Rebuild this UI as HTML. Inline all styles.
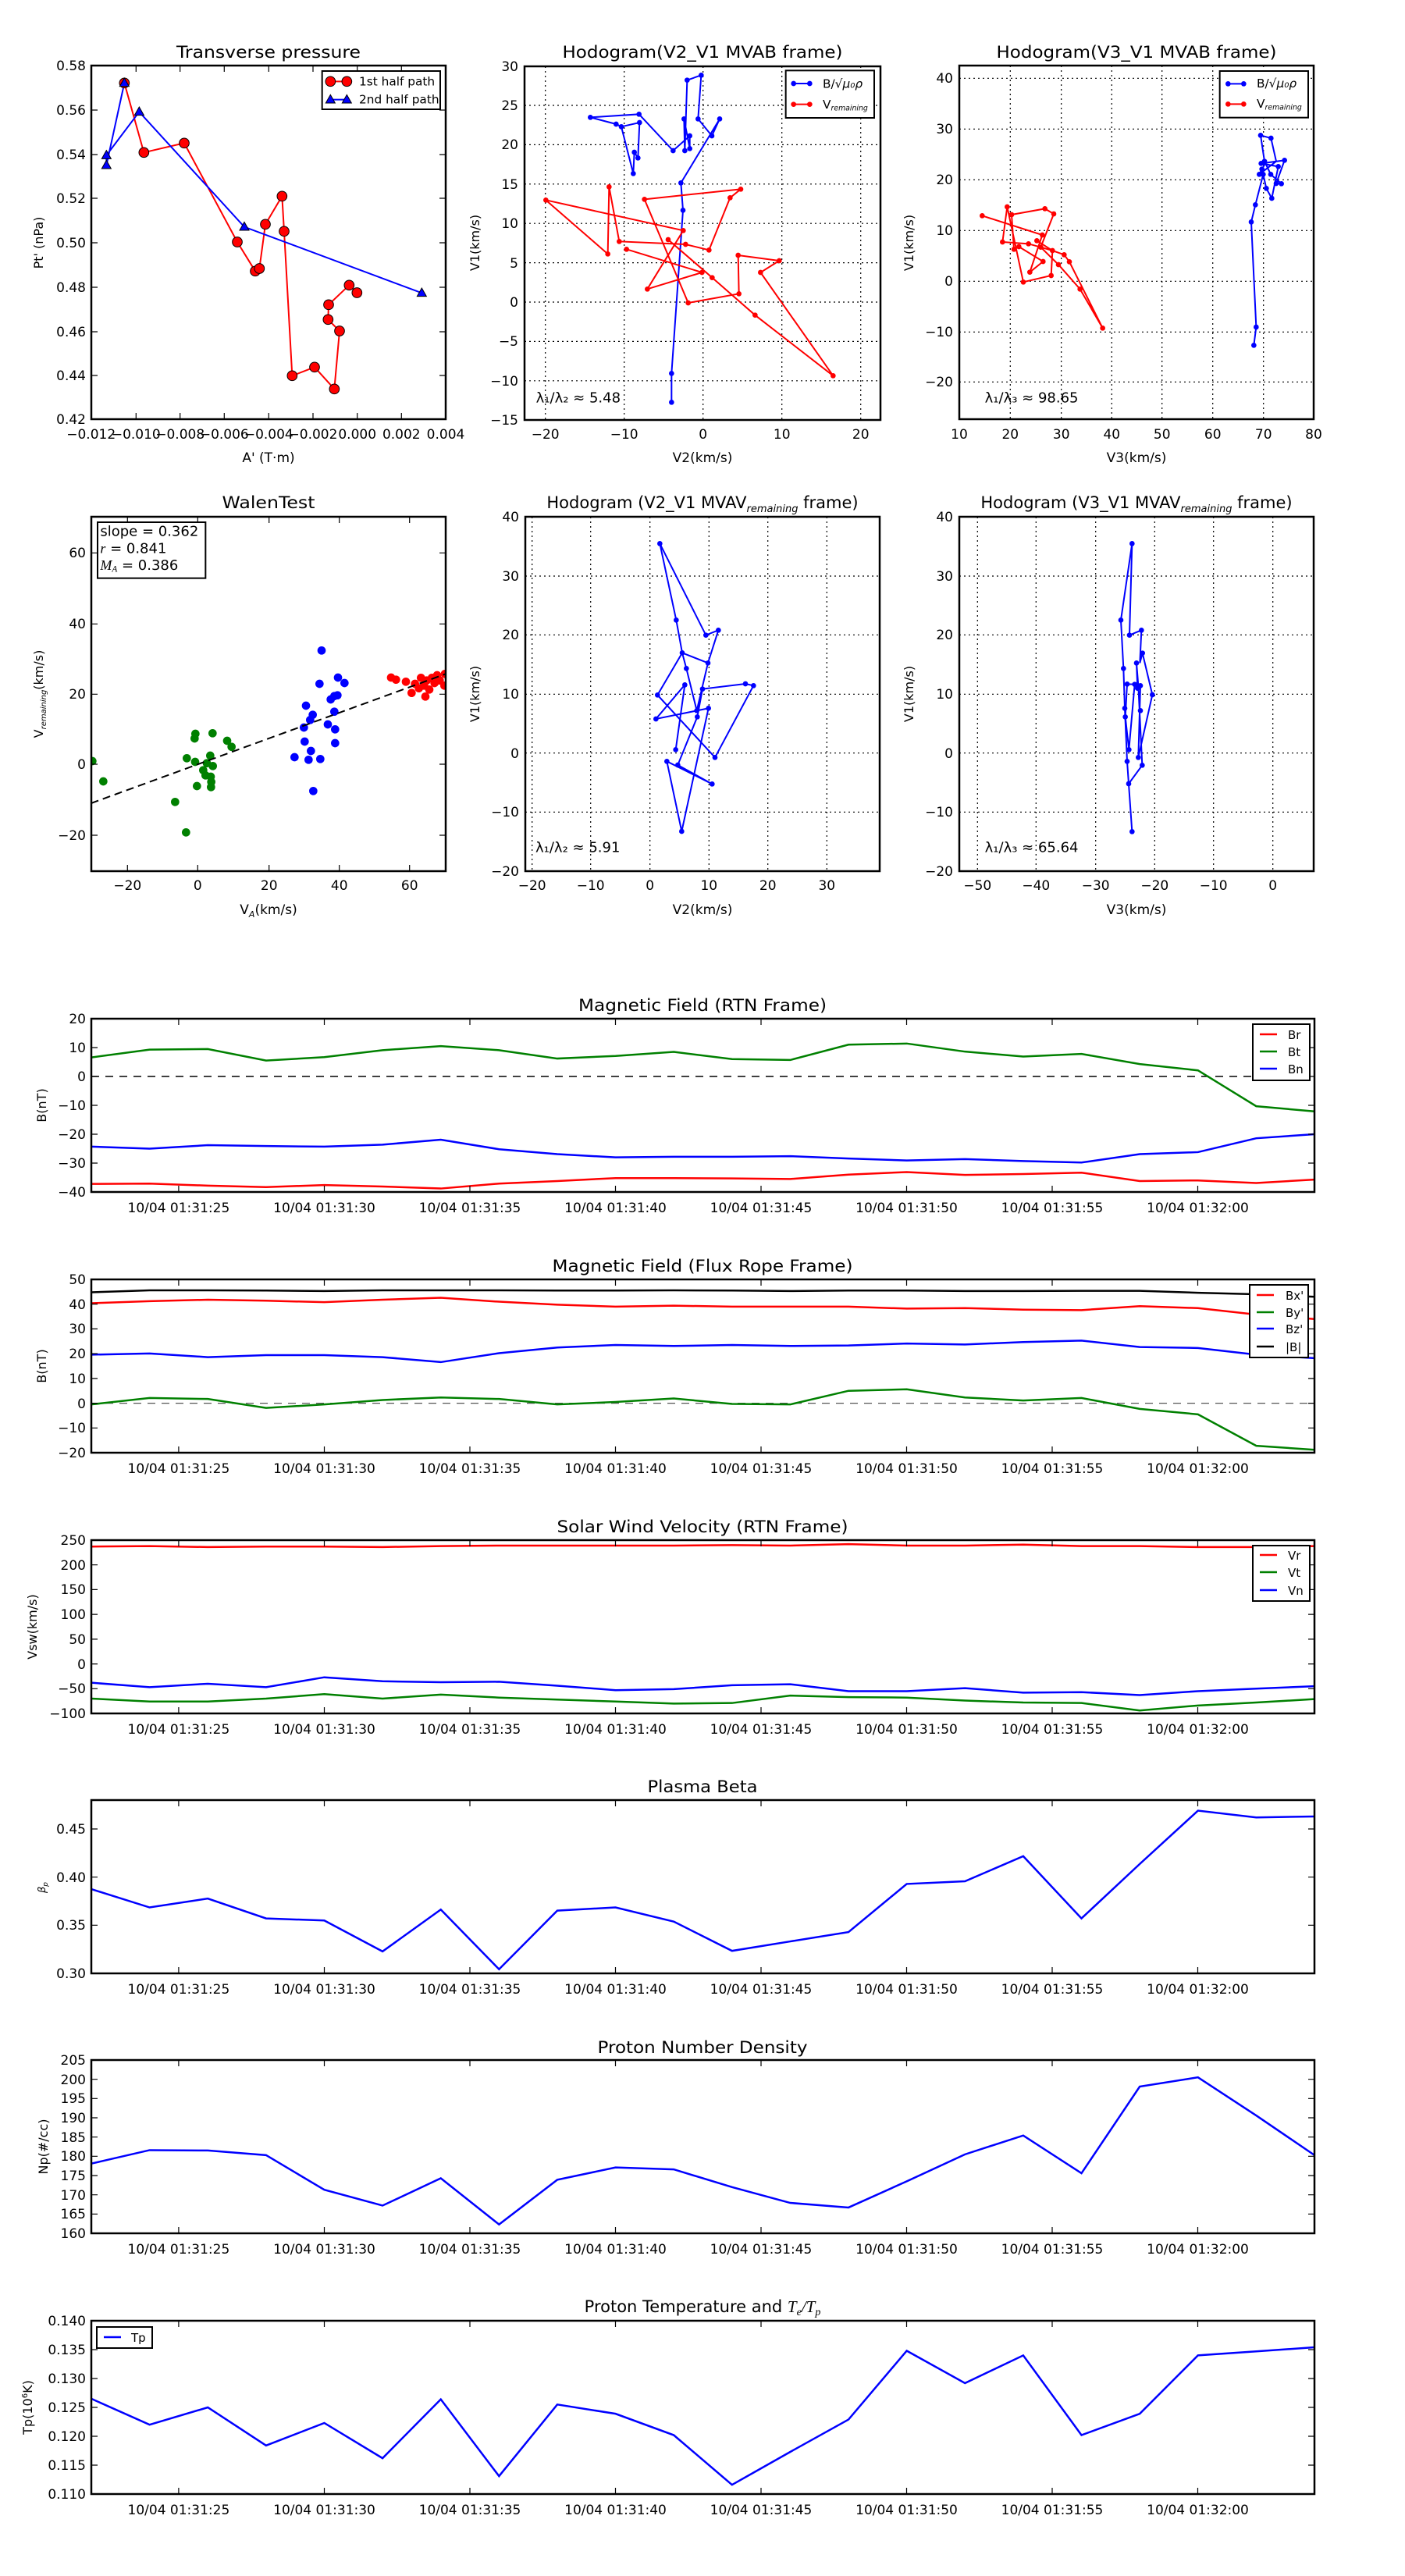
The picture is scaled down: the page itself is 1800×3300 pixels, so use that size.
<!DOCTYPE html>
<html><head><meta charset="utf-8"><style>
html,body{margin:0;padding:0;background:#fff;}
svg{display:block;}
text{font-family:"DejaVu Sans","Liberation Sans",sans-serif;fill:#000;}
.t{font-size:17px;}
.ti{font-size:21px;}
.yl{font-size:16px;}
</style></head><body>
<svg width="1800" height="3300" viewBox="0 0 1800 3300" xmlns="http://www.w3.org/2000/svg">
<rect width="1800" height="3300" fill="#fff"/>

<!-- ============ TOP ROW TITLES ============ -->
<text class="ti" x="344" y="74" text-anchor="middle" textLength="236" lengthAdjust="spacingAndGlyphs">Transverse pressure</text>
<text class="ti" x="900" y="74" text-anchor="middle" textLength="359" lengthAdjust="spacingAndGlyphs">Hodogram(V2_V1 MVAB frame)</text>
<text class="ti" x="1456" y="74" text-anchor="middle" textLength="359" lengthAdjust="spacingAndGlyphs">Hodogram(V3_V1 MVAB frame)</text>
<text class="ti" x="344" y="651" text-anchor="middle" textLength="119" lengthAdjust="spacingAndGlyphs">WalenTest</text>
<text class="ti" x="900" y="651" text-anchor="middle">Hodogram (V2_V1 MVAV<tspan font-style="italic" font-size="13" dy="5">remaining</tspan><tspan dy="-5"> frame)</tspan></text>
<text class="ti" x="1456" y="651" text-anchor="middle">Hodogram (V3_V1 MVAV<tspan font-style="italic" font-size="13" dy="5">remaining</tspan><tspan dy="-5"> frame)</tspan></text>

<!-- ============ Transverse pressure ============ -->
<g>
<svg x="110" y="80" width="470" height="470" viewBox="0 0 1410 1410">
<defs><clipPath id="c1"><rect x="20" y="12" width="1363" height="1360"/></clipPath></defs>
<g clip-path="url(#c1)">
<polyline fill="none" stroke="#f00" stroke-width="6" points="148,79 223,346 378,310 582,690 651,802 667,792 690,622 754,514 762,649 793,1204 879,1171 955,1255 975,1032 931,988 933,931 1012,856 1042,885"/>
<polyline fill="none" stroke="#00f" stroke-width="6" points="148,79 79,395 79,357 205,190 609,632 1291,886"/>
<g fill="#f00" stroke="#000" stroke-width="3">
<circle cx="148" cy="79" r="19"/><circle cx="223" cy="346" r="19"/><circle cx="378" cy="310" r="19"/><circle cx="582" cy="690" r="19"/><circle cx="651" cy="802" r="19"/><circle cx="667" cy="792" r="19"/><circle cx="690" cy="622" r="19"/><circle cx="754" cy="514" r="19"/><circle cx="762" cy="649" r="19"/><circle cx="793" cy="1204" r="19"/><circle cx="879" cy="1171" r="19"/><circle cx="955" cy="1255" r="19"/><circle cx="975" cy="1032" r="19"/><circle cx="931" cy="988" r="19"/><circle cx="933" cy="931" r="19"/><circle cx="1012" cy="856" r="19"/><circle cx="1042" cy="885" r="19"/>
</g>
<g fill="#00f" stroke="#000" stroke-width="3">
<polygon points="148,60 166,92 130,92"/><polygon points="79,376 97,408 61,408"/><polygon points="79,338 97,370 61,370"/><polygon points="205,171 223,203 187,203"/><polygon points="609,613 627,645 591,645"/><polygon points="1291,867 1309,899 1273,899"/>
</g>
</g>
<rect x="908" y="33" width="454" height="147" fill="#fff" stroke="#000" stroke-width="6"/>
<line x1="940" y1="73" x2="1003" y2="73" stroke="#f00" stroke-width="6"/>
<circle cx="940" cy="73" r="19" fill="#f00" stroke="#000" stroke-width="3"/><circle cx="1003" cy="73" r="19" fill="#f00" stroke="#000" stroke-width="3"/>
<line x1="940" y1="143" x2="1003" y2="143" stroke="#00f" stroke-width="6"/>
<polygon points="940,124 958,156 922,156" fill="#00f" stroke="#000" stroke-width="3"/><polygon points="1003,124 1021,156 985,156" fill="#00f" stroke="#000" stroke-width="3"/>
<text x="1050" y="88" font-size="46">1st half path</text>
<text x="1050" y="158" font-size="46">2nd half path</text>
</svg>
<rect x="117" y="84" width="454" height="453" fill="none" stroke="#000" stroke-width="2.5"/>
<g stroke="#000" stroke-width="1.2">
<path d="M174.3,537v-8M230.7,537v-8M287.3,537v-8M344.3,537v-8M401,537v-8M457.7,537v-8M514.3,537v-8M174.3,84v8M230.7,84v8M287.3,84v8M344.3,84v8M401,84v8M457.7,84v8M514.3,84v8"/>
<path d="M117,141h8M117,198h8M117,254h8M117,311h8M117,368h8M117,425h8M117,481h8M571,141h-8M571,198h-8M571,254h-8M571,311h-8M571,368h-8M571,425h-8M571,481h-8"/>
</g>
<g class="t" text-anchor="end">
<text x="110" y="90">0.58</text><text x="110" y="147">0.56</text><text x="110" y="204">0.54</text><text x="110" y="260">0.52</text><text x="110" y="317">0.50</text><text x="110" y="374">0.48</text><text x="110" y="431">0.46</text><text x="110" y="487">0.44</text><text x="110" y="543">0.42</text>
</g>
<g class="t" text-anchor="middle" font-size="16">
<text x="116.7" y="562">−0.012</text><text x="174.3" y="562">−0.010</text><text x="230.7" y="562">−0.008</text><text x="287.3" y="562">−0.006</text><text x="344.3" y="562">−0.004</text><text x="401" y="562">−0.002</text><text x="457.7" y="562">0.000</text><text x="514.3" y="562">0.002</text><text x="571" y="562">0.004</text>
</g>
<text class="t" x="344" y="592" text-anchor="middle">A' (T·m)</text>
<text class="yl" transform="translate(55,311) rotate(-90)" text-anchor="middle">Pt' (nPa)</text>
</g>

<!-- ============ Hodogram V2_V1 MVAB ============ -->
<g>
<g stroke="#000" stroke-width="1.2" stroke-dasharray="2,4">
<path d="M698.7,85V538M799.7,85V538M900.7,85V538M1001.7,85V538M1102.7,85V538"/>
<path d="M672,135H1128M672,185.4H1128M672,235.8H1128M672,286.2H1128M672,336.6H1128M672,387H1128M672,437.4H1128M672,487.8H1128"/>
</g>
<svg x="675" y="83" width="460" height="460" viewBox="0 0 1380 1380">
<defs><clipPath id="c2"><rect x="-10" y="5" width="1365" height="1360"/></clipPath></defs>
<g clip-path="url(#c2)">
<polyline fill="none" stroke="#00f" stroke-width="6" points="556,1297 556,1186 600,559 592,454 741,208 711,273 658,208 670,40 616,59 607,330 604,208 626,322 626,273 562,330 431,190 244,202 343,228 363,238 409,418 413,336 427,358 433,222 363,238"/>
<g fill="#00f"><circle cx="556" cy="1297" r="10"/><circle cx="556" cy="1186" r="10"/><circle cx="600" cy="559" r="10"/><circle cx="592" cy="454" r="10"/><circle cx="741" cy="208" r="10"/><circle cx="711" cy="273" r="10"/><circle cx="658" cy="208" r="10"/><circle cx="670" cy="40" r="10"/><circle cx="616" cy="59" r="10"/><circle cx="607" cy="330" r="10"/><circle cx="604" cy="208" r="10"/><circle cx="626" cy="322" r="10"/><circle cx="626" cy="273" r="10"/><circle cx="562" cy="330" r="10"/><circle cx="431" cy="190" r="10"/><circle cx="244" cy="202" r="10"/><circle cx="343" cy="228" r="10"/><circle cx="363" cy="238" r="10"/><circle cx="409" cy="418" r="10"/><circle cx="413" cy="336" r="10"/><circle cx="427" cy="358" r="10"/><circle cx="433" cy="222" r="10"/></g>
<polyline fill="none" stroke="#f00" stroke-width="6" points="383,709 673,798 463,862 601,637 73,520 311,727 316,469 355,679 610,690 700,712 781,511 822,478 452,517 620,915 815,880 812,732 970,753 898,798 1177,1195 877,962 712,818 543,672"/>
<g fill="#f00"><circle cx="383" cy="709" r="10"/><circle cx="673" cy="798" r="10"/><circle cx="463" cy="862" r="10"/><circle cx="601" cy="637" r="10"/><circle cx="73" cy="520" r="10"/><circle cx="311" cy="727" r="10"/><circle cx="316" cy="469" r="10"/><circle cx="355" cy="679" r="10"/><circle cx="610" cy="690" r="10"/><circle cx="700" cy="712" r="10"/><circle cx="781" cy="511" r="10"/><circle cx="822" cy="478" r="10"/><circle cx="452" cy="517" r="10"/><circle cx="620" cy="915" r="10"/><circle cx="815" cy="880" r="10"/><circle cx="812" cy="732" r="10"/><circle cx="970" cy="753" r="10"/><circle cx="898" cy="798" r="10"/><circle cx="1177" cy="1195" r="10"/><circle cx="877" cy="962" r="10"/><circle cx="712" cy="818" r="10"/><circle cx="543" cy="672" r="10"/></g>
</g>
<rect x="995" y="22" width="340" height="182" fill="#fff" stroke="#000" stroke-width="6"/>
<line x1="1025" y1="72" x2="1087" y2="72" stroke="#00f" stroke-width="6"/><circle cx="1025" cy="72" r="10" fill="#00f"/><circle cx="1087" cy="72" r="10" fill="#00f"/>
<line x1="1025" y1="152" x2="1087" y2="152" stroke="#f00" stroke-width="6"/><circle cx="1025" cy="152" r="10" fill="#f00"/><circle cx="1087" cy="152" r="10" fill="#f00"/>
<text x="1137" y="88" font-size="46">B/√<tspan font-style="italic">μ₀ρ</tspan></text>
<text x="1137" y="168" font-size="46">V<tspan font-style="italic" font-size="28" dy="8">remaining</tspan></text>
<text x="35" y="1298" font-size="54">λ₁/λ₂ ≈ 5.48</text>
</svg>
<rect x="672" y="85" width="456" height="453" fill="none" stroke="#000" stroke-width="2.5"/>
<g class="t" text-anchor="end">
<text x="664" y="91">30</text><text x="664" y="141">25</text><text x="664" y="191">20</text><text x="664" y="242">15</text><text x="664" y="292">10</text><text x="664" y="343">5</text><text x="664" y="393">0</text><text x="664" y="443">−5</text><text x="664" y="494">−10</text><text x="664" y="544">−15</text>
</g>
<g class="t" text-anchor="middle">
<text x="698.7" y="562">−20</text><text x="799.7" y="562">−10</text><text x="900.7" y="562">0</text><text x="1001.7" y="562">10</text><text x="1102.7" y="562">20</text>
</g>
<text class="t" x="900" y="592" text-anchor="middle">V2(km/s)</text>
<text class="yl" transform="translate(614,311) rotate(-90)" text-anchor="middle">V1(km/s)</text>
</g>

<!-- ============ Hodogram V3_V1 MVAB ============ -->
<g>
<g stroke="#000" stroke-width="1.2" stroke-dasharray="2,4">
<path d="M1294.3,84V537M1359.7,84V537M1424.3,84V537M1488.7,84V537M1553.7,84V537M1618.7,84V537"/>
<path d="M1229,100.3H1683M1229,165.3H1683M1229,230.3H1683M1229,295.3H1683M1229,360.3H1683M1229,425.3H1683M1229,489.3H1683"/>
</g>
<svg x="1225" y="80" width="470" height="470" viewBox="0 0 1410 1410">
<defs><clipPath id="c3"><rect x="12" y="12" width="1363" height="1360"/></clipPath></defs>
<g clip-path="url(#c3)">
<polyline fill="none" stroke="#00f" stroke-width="6" points="1144,1087 1153,1017 1134,613 1150,547 1180,430 1192,484 1213,522 1238,400 1172,388 1262,376 1230,465 1250,466 1209,430 1185,380 1170,280 1210,291 1230,380 1165,430 1175,410 1190,385"/>
<g fill="#00f"><circle cx="1144" cy="1087" r="10"/><circle cx="1153" cy="1017" r="10"/><circle cx="1134" cy="613" r="10"/><circle cx="1150" cy="547" r="10"/><circle cx="1180" cy="430" r="10"/><circle cx="1192" cy="484" r="10"/><circle cx="1213" cy="522" r="10"/><circle cx="1238" cy="400" r="10"/><circle cx="1172" cy="388" r="10"/><circle cx="1262" cy="376" r="10"/><circle cx="1230" cy="465" r="10"/><circle cx="1250" cy="466" r="10"/><circle cx="1209" cy="430" r="10"/><circle cx="1185" cy="380" r="10"/><circle cx="1170" cy="280" r="10"/><circle cx="1210" cy="291" r="10"/><circle cx="1165" cy="430" r="10"/><circle cx="1175" cy="410" r="10"/></g>
<polyline fill="none" stroke="#f00" stroke-width="6" points="100,589 331,663 283,806 334,765 241,708 222,718 213,585 341,562 375,582 325,710 393,777 476,871 563,1021 435,766 415,739 370,723 325,710 278,697 178,690 196,555 258,844 365,819 370,723 310,685"/>
<g fill="#f00"><circle cx="100" cy="589" r="10"/><circle cx="331" cy="663" r="10"/><circle cx="283" cy="806" r="10"/><circle cx="334" cy="765" r="10"/><circle cx="241" cy="708" r="10"/><circle cx="222" cy="718" r="10"/><circle cx="213" cy="585" r="10"/><circle cx="341" cy="562" r="10"/><circle cx="375" cy="582" r="10"/><circle cx="325" cy="710" r="10"/><circle cx="393" cy="777" r="10"/><circle cx="476" cy="871" r="10"/><circle cx="563" cy="1021" r="10"/><circle cx="435" cy="766" r="10"/><circle cx="415" cy="739" r="10"/><circle cx="370" cy="723" r="10"/><circle cx="278" cy="697" r="10"/><circle cx="178" cy="690" r="10"/><circle cx="196" cy="555" r="10"/><circle cx="258" cy="844" r="10"/><circle cx="365" cy="819" r="10"/><circle cx="310" cy="685" r="10"/></g>
</g>
<rect x="1013" y="33" width="340" height="179" fill="#fff" stroke="#000" stroke-width="6"/>
<line x1="1045" y1="82" x2="1105" y2="82" stroke="#00f" stroke-width="6"/><circle cx="1045" cy="82" r="10" fill="#00f"/><circle cx="1105" cy="82" r="10" fill="#00f"/>
<line x1="1045" y1="160" x2="1105" y2="160" stroke="#f00" stroke-width="6"/><circle cx="1045" cy="160" r="10" fill="#f00"/><circle cx="1105" cy="160" r="10" fill="#f00"/>
<text x="1155" y="96" font-size="46">B/√<tspan font-style="italic">μ₀ρ</tspan></text>
<text x="1155" y="174" font-size="46">V<tspan font-style="italic" font-size="28" dy="8">remaining</tspan></text>
<text x="110" y="1306" font-size="54">λ₁/λ₃ ≈ 98.65</text>
</svg>
<rect x="1229" y="84" width="454" height="453" fill="none" stroke="#000" stroke-width="2.5"/>
<g class="t" text-anchor="end">
<text x="1221" y="106">40</text><text x="1221" y="171">30</text><text x="1221" y="236">20</text><text x="1221" y="301">10</text><text x="1221" y="366">0</text><text x="1221" y="431">−10</text><text x="1221" y="495">−20</text>
</g>
<g class="t" text-anchor="middle">
<text x="1229" y="562">10</text><text x="1294.3" y="562">20</text><text x="1359.7" y="562">30</text><text x="1424.3" y="562">40</text><text x="1488.7" y="562">50</text><text x="1553.7" y="562">60</text><text x="1618.7" y="562">70</text><text x="1683" y="562">80</text>
</g>
<text class="t" x="1456" y="592" text-anchor="middle">V3(km/s)</text>
<text class="yl" transform="translate(1170,311) rotate(-90)" text-anchor="middle">V1(km/s)</text>
</g>

<!-- ============ Walen test ============ -->
<g>
<svg x="110" y="655" width="470" height="470" viewBox="0 0 1410 1410">
<defs><clipPath id="c4"><rect x="20" y="20" width="1363" height="1362"/></clipPath></defs>
<g clip-path="url(#c4)">
<g fill="#008000">
<circle cx="25" cy="960" r="16"/><circle cx="67" cy="1038" r="16"/><circle cx="343" cy="1117" r="16"/><circle cx="385" cy="1234" r="16"/><circle cx="388" cy="949" r="16"/><circle cx="420" cy="963" r="16"/><circle cx="421" cy="855" r="16"/><circle cx="418" cy="873" r="16"/><circle cx="427" cy="1056" r="16"/><circle cx="451" cy="995" r="16"/><circle cx="460" cy="1015" r="16"/><circle cx="465" cy="968" r="16"/><circle cx="478" cy="939" r="16"/><circle cx="487" cy="853" r="16"/><circle cx="488" cy="979" r="16"/><circle cx="480" cy="1020" r="16"/><circle cx="482" cy="1040" r="16"/><circle cx="481" cy="1060" r="16"/><circle cx="543" cy="882" r="16"/><circle cx="560" cy="905" r="16"/>
</g>
<g fill="#00f">
<circle cx="906" cy="535" r="16"/><circle cx="898" cy="663" r="16"/><circle cx="969" cy="639" r="16"/><circle cx="994" cy="660" r="16"/><circle cx="846" cy="747" r="16"/><circle cx="941" cy="723" r="16"/><circle cx="955" cy="710" r="16"/><circle cx="967" cy="707" r="16"/><circle cx="872" cy="782" r="16"/><circle cx="862" cy="802" r="16"/><circle cx="955" cy="770" r="16"/><circle cx="838" cy="831" r="16"/><circle cx="930" cy="819" r="16"/><circle cx="958" cy="838" r="16"/><circle cx="841" cy="885" r="16"/><circle cx="958" cy="891" r="16"/><circle cx="865" cy="921" r="16"/><circle cx="802" cy="945" r="16"/><circle cx="856" cy="955" r="16"/><circle cx="901" cy="952" r="16"/><circle cx="874" cy="1075" r="16"/>
</g>
<g fill="#f00">
<circle cx="1173" cy="639" r="16"/><circle cx="1192" cy="647" r="16"/><circle cx="1230" cy="655" r="16"/><circle cx="1265" cy="663" r="16"/><circle cx="1288" cy="640" r="16"/><circle cx="1300" cy="670" r="16"/><circle cx="1252" cy="698" r="16"/><circle cx="1305" cy="712" r="16"/><circle cx="1330" cy="640" r="16"/><circle cx="1350" cy="630" r="16"/><circle cx="1340" cy="660" r="16"/><circle cx="1380" cy="625" r="16"/><circle cx="1378" cy="670" r="16"/><circle cx="1280" cy="680" r="16"/><circle cx="1320" cy="685" r="16"/><circle cx="1360" cy="650" r="16"/><circle cx="1310" cy="650" r="16"/><circle cx="1395" cy="640" r="16"/>
</g>
<line x1="20" y1="1122" x2="1383" y2="625" stroke="#000" stroke-width="6" stroke-dasharray="30,18"/>
</g>
<rect x="45" y="42" width="415" height="215" fill="#fff" stroke="#000" stroke-width="6"/>
<text x="55" y="95" font-size="54">slope = 0.362</text>
<text x="55" y="160" font-size="54"><tspan font-style="italic" font-family="Liberation Serif,serif">r</tspan> = 0.841</text>
<text x="55" y="225" font-size="54"><tspan font-style="italic" font-family="Liberation Serif,serif">M</tspan><tspan font-style="italic" font-family="Liberation Serif,serif" font-size="34" dy="8">A</tspan><tspan dy="-8"> = 0.386</tspan></text>
</svg>
<rect x="117" y="662" width="454" height="454" fill="none" stroke="#000" stroke-width="2.5"/>
<g stroke="#000" stroke-width="1.2">
<path d="M163.3,1116v-8M253.3,1116v-8M344.7,1116v-8M434.7,1116v-8M524.7,1116v-8M163.3,662v8M253.3,662v8M344.7,662v8M434.7,662v8M524.7,662v8"/>
<path d="M117,708.3h8M117,799.3h8M117,889.3h8M117,979h8M117,1070h8M571,708.3h-8M571,799.3h-8M571,889.3h-8M571,979h-8M571,1070h-8"/>
</g>
<g class="t" text-anchor="end">
<text x="110" y="714">60</text><text x="110" y="805">40</text><text x="110" y="895">20</text><text x="110" y="985">0</text><text x="110" y="1076">−20</text>
</g>
<g class="t" text-anchor="middle">
<text x="163.3" y="1140">−20</text><text x="253.3" y="1140">0</text><text x="344.7" y="1140">20</text><text x="434.7" y="1140">40</text><text x="524.7" y="1140">60</text>
</g>
<text class="t" x="344" y="1171" text-anchor="middle">V<tspan font-style="italic" font-size="11" dy="4">A</tspan><tspan dy="-4">(km/s)</tspan></text>
<text class="yl" transform="translate(55,889) rotate(-90)" text-anchor="middle">V<tspan font-style="italic" font-size="10" dy="4">remaining</tspan><tspan dy="-4">(km/s)</tspan></text>
</g>

<!-- ============ Hodogram V2_V1 MVAV ============ -->
<g>
<g stroke="#000" stroke-width="1.2" stroke-dasharray="2,4">
<path d="M681.7,662V1116M756.7,662V1116M832.7,662V1116M908.3,662V1116M983.7,662V1116M1059.3,662V1116"/>
<path d="M673,738H1127M673,813.3H1127M673,889.3H1127M673,964.7H1127M673,1040.3H1127"/>
</g>
<svg x="670" y="655" width="470" height="470" viewBox="0 0 1410 1410">
<polyline fill="none" stroke="#00f" stroke-width="6" points="587,916 622,667 511,798 713,757 610,1230 553,961 727,1048 595,975 670,790 690,683 855,663 886,670 738,946 517,706 612,544 711,583 751,457 703,476 526,124 589,418 612,544 628,604 668,766 711,583"/>
<g fill="#00f"><circle cx="587" cy="916" r="10"/><circle cx="622" cy="667" r="10"/><circle cx="511" cy="798" r="10"/><circle cx="713" cy="757" r="10"/><circle cx="610" cy="1230" r="10"/><circle cx="553" cy="961" r="10"/><circle cx="727" cy="1048" r="10"/><circle cx="595" cy="975" r="10"/><circle cx="670" cy="790" r="10"/><circle cx="690" cy="683" r="10"/><circle cx="855" cy="663" r="10"/><circle cx="886" cy="670" r="10"/><circle cx="738" cy="946" r="10"/><circle cx="517" cy="706" r="10"/><circle cx="612" cy="544" r="10"/><circle cx="711" cy="583" r="10"/><circle cx="751" cy="457" r="10"/><circle cx="703" cy="476" r="10"/><circle cx="526" cy="124" r="10"/><circle cx="589" cy="418" r="10"/><circle cx="628" cy="604" r="10"/><circle cx="668" cy="766" r="10"/></g>
<text x="48" y="1310" font-size="54">λ₁/λ₂ ≈ 5.91</text>
</svg>
<rect x="673" y="662" width="454" height="454" fill="none" stroke="#000" stroke-width="2.5"/>
<g class="t" text-anchor="end">
<text x="665" y="668">40</text><text x="665" y="744">30</text><text x="665" y="819">20</text><text x="665" y="895">10</text><text x="665" y="971">0</text><text x="665" y="1046">−10</text><text x="665" y="1122">−20</text>
</g>
<g class="t" text-anchor="middle">
<text x="681.7" y="1140">−20</text><text x="756.7" y="1140">−10</text><text x="832.7" y="1140">0</text><text x="908.3" y="1140">10</text><text x="983.7" y="1140">20</text><text x="1059.3" y="1140">30</text>
</g>
<text class="t" x="900" y="1171" text-anchor="middle">V2(km/s)</text>
<text class="yl" transform="translate(614,889) rotate(-90)" text-anchor="middle">V1(km/s)</text>
</g>

<!-- ============ Hodogram V3_V1 MVAV ============ -->
<g>
<g stroke="#000" stroke-width="1.2" stroke-dasharray="2,4">
<path d="M1252.3,662V1116M1327.3,662V1116M1403.7,662V1116M1479.3,662V1116M1554.7,662V1116M1630.7,662V1116"/>
<path d="M1229,738H1683M1229,813.3H1683M1229,889.3H1683M1229,964.7H1683M1229,1040.3H1683"/>
</g>
<svg x="1225" y="655" width="470" height="470" viewBox="0 0 1410 1410">
<polyline fill="none" stroke="#00f" stroke-width="6" points="676,1231 663,1047 657,961 648,757 643,604 633,418 676,124 666,476 712,457 706,583 716,545 754,705 700,946 708,670 697,680 693,583 700,670 715,976 663,1047"/>
<polyline fill="none" stroke="#00f" stroke-width="6" points="657,664 686,665 664,916 650,790 657,664"/>
<g fill="#00f"><circle cx="676" cy="1231" r="10"/><circle cx="663" cy="1047" r="10"/><circle cx="657" cy="961" r="10"/><circle cx="648" cy="757" r="10"/><circle cx="643" cy="604" r="10"/><circle cx="633" cy="418" r="10"/><circle cx="676" cy="124" r="10"/><circle cx="666" cy="476" r="10"/><circle cx="712" cy="457" r="10"/><circle cx="716" cy="545" r="10"/><circle cx="754" cy="705" r="10"/><circle cx="700" cy="946" r="10"/><circle cx="708" cy="670" r="10"/><circle cx="697" cy="680" r="10"/><circle cx="693" cy="583" r="10"/><circle cx="715" cy="976" r="10"/><circle cx="657" cy="664" r="10"/><circle cx="686" cy="665" r="10"/><circle cx="664" cy="916" r="10"/><circle cx="650" cy="790" r="10"/><circle cx="708" cy="766" r="10"/></g>
<text x="110" y="1310" font-size="54">λ₁/λ₃ ≈ 65.64</text>
</svg>
<rect x="1229" y="662" width="454" height="454" fill="none" stroke="#000" stroke-width="2.5"/>
<g class="t" text-anchor="end">
<text x="1221" y="668">40</text><text x="1221" y="744">30</text><text x="1221" y="819">20</text><text x="1221" y="895">10</text><text x="1221" y="971">0</text><text x="1221" y="1046">−10</text><text x="1221" y="1122">−20</text>
</g>
<g class="t" text-anchor="middle">
<text x="1252.3" y="1140">−50</text><text x="1327.3" y="1140">−40</text><text x="1403.7" y="1140">−30</text><text x="1479.3" y="1140">−20</text><text x="1554.7" y="1140">−10</text><text x="1630.7" y="1140">0</text>
</g>
<text class="t" x="1456" y="1171" text-anchor="middle">V3(km/s)</text>
<text class="yl" transform="translate(1170,889) rotate(-90)" text-anchor="middle">V1(km/s)</text>
</g>

<!-- ============ TIME SERIES ============ -->
<!-- shared x tick positions: 228.9 415.5 602 788.5 975 1161.5 1348 1534.5 -->

<!-- Magnetic Field RTN -->
<g>
<text class="ti" x="900" y="1295" text-anchor="middle" textLength="318" lengthAdjust="spacingAndGlyphs">Magnetic Field (RTN Frame)</text>
<line x1="117" y1="1379" x2="1684" y2="1379" stroke="#000" stroke-width="1.5" stroke-dasharray="10,8"/>
<svg x="117" y="1305" width="1567" height="222" viewBox="22 -20 42 60" preserveAspectRatio="none">
<polyline fill="none" stroke="#f00" stroke-width="2.5" vector-effect="non-scaling-stroke" points="22,37.2 24,37.1 26,37.8 28,38.3 30,37.6 32,38.1 34,38.8 36,37.1 38,36.2 40,35.2 42,35.2 44,35.3 46,35.5 48,34 50,33.1 52,34.1 54,33.8 56,33.3 58,36.2 60,36 62,36.9 64,35.7"/>
<polyline fill="none" stroke="#008000" stroke-width="2.5" vector-effect="non-scaling-stroke" points="22,-6.6 24,-9.3 26,-9.5 28,-5.5 30,-6.7 32,-9.1 34,-10.5 36,-9.1 38,-6.2 40,-7.1 42,-8.5 44,-6 46,-5.7 48,-11 50,-11.4 52,-8.6 54,-6.9 56,-7.8 58,-4.3 60,-2.1 62,10.3 64,12.1"/>
<polyline fill="none" stroke="#00f" stroke-width="2.5" vector-effect="non-scaling-stroke" points="22,24.3 24,25 26,23.8 28,24.1 30,24.3 32,23.6 34,21.9 36,25.2 38,26.9 40,28 42,27.8 44,27.8 46,27.6 48,28.4 50,29.1 52,28.6 54,29.3 56,29.8 58,26.9 60,26.2 62,21.4 64,20"/>
</svg>
<rect x="117" y="1305" width="1567" height="222" fill="none" stroke="#000" stroke-width="2.5"/>
<g stroke="#000" stroke-width="1.2">
<path d="M228.9,1527v-8M415.5,1527v-8M602,1527v-8M788.5,1527v-8M975,1527v-8M1161.5,1527v-8M1348,1527v-8M1534.5,1527v-8M228.9,1305v8M415.5,1305v8M602,1305v8M788.5,1305v8M975,1305v8M1161.5,1305v8M1348,1305v8M1534.5,1305v8"/>
<path d="M117,1342h8M117,1379h8M117,1416h8M117,1453h8M117,1490h8M1684,1342h-8M1684,1379h-8M1684,1416h-8M1684,1453h-8M1684,1490h-8"/>
</g>
<g class="t" text-anchor="end">
<text x="110" y="1311">20</text><text x="110" y="1348">10</text><text x="110" y="1385">0</text><text x="110" y="1422">−10</text><text x="110" y="1459">−20</text><text x="110" y="1496">−30</text><text x="110" y="1533">−40</text>
</g>
<text class="yl" transform="translate(59,1416) rotate(-90)" text-anchor="middle">B(nT)</text>
<rect x="1605" y="1312" width="73" height="72" fill="#fff" stroke="#000" stroke-width="2"/>
<line x1="1614" y1="1325" x2="1636" y2="1325" stroke="#f00" stroke-width="2.5"/>
<line x1="1614" y1="1347" x2="1636" y2="1347" stroke="#008000" stroke-width="2.5"/>
<line x1="1614" y1="1369" x2="1636" y2="1369" stroke="#00f" stroke-width="2.5"/>
<g font-size="15"><text x="1650" y="1331">Br</text><text x="1650" y="1353">Bt</text><text x="1650" y="1375">Bn</text></g>
</g>

<!-- Magnetic Field Flux Rope -->
<g>
<text class="ti" x="900" y="1629" text-anchor="middle" textLength="385" lengthAdjust="spacingAndGlyphs">Magnetic Field (Flux Rope Frame)</text>
<line x1="117" y1="1797.6" x2="1684" y2="1797.6" stroke="#555" stroke-width="1.3" stroke-dasharray="10,8"/>
<svg x="117" y="1639" width="1567" height="222" viewBox="22 -50 42 70" preserveAspectRatio="none">
<polyline fill="none" stroke="#f00" stroke-width="2.5" vector-effect="non-scaling-stroke" points="22,-40.4 24,-41.2 26,-41.8 28,-41.4 30,-40.8 32,-41.8 34,-42.6 36,-41 38,-39.8 40,-39 42,-39.4 44,-39 46,-39 48,-39 50,-38.2 52,-38.4 54,-37.8 56,-37.6 58,-39.2 60,-38.4 62,-35.8 64,-34"/>
<polyline fill="none" stroke="#008000" stroke-width="2.5" vector-effect="non-scaling-stroke" points="22,0.5 24,-2.1 26,-1.7 28,1.9 30,0.5 32,-1.3 34,-2.3 36,-1.7 38,0.5 40,-0.5 42,-1.9 44,0.3 46,0.5 48,-5 50,-5.6 52,-2.3 54,-1.1 56,-2.1 58,2.3 60,4.5 62,17.2 64,18.8"/>
<polyline fill="none" stroke="#00f" stroke-width="2.5" vector-effect="non-scaling-stroke" points="22,-19.6 24,-20.1 26,-18.6 28,-19.4 30,-19.4 32,-18.6 34,-16.6 36,-20.2 38,-22.5 40,-23.5 42,-23.1 44,-23.5 46,-23.1 48,-23.3 50,-24.1 52,-23.7 54,-24.7 56,-25.3 58,-22.7 60,-22.3 62,-19.6 64,-18.2"/>
<polyline fill="none" stroke="#000" stroke-width="2.5" vector-effect="non-scaling-stroke" points="22,-44.8 24,-45.6 26,-45.6 28,-45.5 30,-45.3 32,-45.6 34,-45.6 36,-45.6 38,-45.5 40,-45.5 42,-45.6 44,-45.5 46,-45.3 48,-45.5 50,-45.5 52,-45.3 54,-45.3 56,-45.4 58,-45.4 60,-44.6 62,-44 64,-43"/>
</svg>
<rect x="117" y="1639" width="1567" height="222" fill="none" stroke="#000" stroke-width="2.5"/>
<g stroke="#000" stroke-width="1.2">
<path d="M228.9,1861v-8M415.5,1861v-8M602,1861v-8M788.5,1861v-8M975,1861v-8M1161.5,1861v-8M1348,1861v-8M1534.5,1861v-8M228.9,1639v8M415.5,1639v8M602,1639v8M788.5,1639v8M975,1639v8M1161.5,1639v8M1348,1639v8M1534.5,1639v8"/>
<path d="M117,1670.7h8M117,1702.4h8M117,1734.1h8M117,1765.9h8M117,1797.6h8M117,1829.3h8M1684,1670.7h-8M1684,1702.4h-8M1684,1734.1h-8M1684,1765.9h-8M1684,1797.6h-8M1684,1829.3h-8"/>
</g>
<g class="t" text-anchor="end">
<text x="110" y="1645">50</text><text x="110" y="1677">40</text><text x="110" y="1708">30</text><text x="110" y="1740">20</text><text x="110" y="1772">10</text><text x="110" y="1804">0</text><text x="110" y="1835">−10</text><text x="110" y="1867">−20</text>
</g>
<text class="yl" transform="translate(59,1750) rotate(-90)" text-anchor="middle">B(nT)</text>
<rect x="1601" y="1646" width="75" height="93" fill="#fff" stroke="#000" stroke-width="2"/>
<line x1="1610" y1="1659" x2="1632" y2="1659" stroke="#f00" stroke-width="2.5"/>
<line x1="1610" y1="1681" x2="1632" y2="1681" stroke="#008000" stroke-width="2.5"/>
<line x1="1610" y1="1702" x2="1632" y2="1702" stroke="#00f" stroke-width="2.5"/>
<line x1="1610" y1="1725" x2="1632" y2="1725" stroke="#000" stroke-width="2.5"/>
<g font-size="15"><text x="1647" y="1665">Bx'</text><text x="1647" y="1687">By'</text><text x="1647" y="1708">Bz'</text><text x="1647" y="1731">|B|</text></g>
</g>

<!-- Solar wind velocity -->
<g>
<text class="ti" x="900" y="1963" text-anchor="middle" textLength="373" lengthAdjust="spacingAndGlyphs">Solar Wind Velocity (RTN Frame)</text>
<svg x="117" y="1973" width="1567" height="222" viewBox="22 -250 42 350" preserveAspectRatio="none">
<polyline fill="none" stroke="#f00" stroke-width="2.5" vector-effect="non-scaling-stroke" points="22,-237 24,-238 26,-236 28,-237 30,-237 32,-236 34,-238 36,-239 38,-239 40,-239 42,-239 44,-240 46,-239 48,-242 50,-239 52,-239 54,-241 56,-238 58,-238 60,-236 62,-236 64,-238"/>
<polyline fill="none" stroke="#008000" stroke-width="2.5" vector-effect="non-scaling-stroke" points="22,70 24,76 26,76 28,70 30,61 32,70 34,62 36,68 38,72 40,76 42,80 44,79 46,64 48,67 50,68 52,74 54,78 56,79 58,94 60,84 62,78 64,71"/>
<polyline fill="none" stroke="#00f" stroke-width="2.5" vector-effect="non-scaling-stroke" points="22,38 24,47 26,40 28,47 30,27 32,35 34,37 36,36 38,44 40,53 42,51 44,43 46,41 48,55 50,55 52,49 54,58 56,57 58,63 60,55 62,50 64,45"/>
</svg>
<rect x="117" y="1973" width="1567" height="222" fill="none" stroke="#000" stroke-width="2.5"/>
<g stroke="#000" stroke-width="1.2">
<path d="M228.9,2195v-8M415.5,2195v-8M602,2195v-8M788.5,2195v-8M975,2195v-8M1161.5,2195v-8M1348,2195v-8M1534.5,2195v-8M228.9,1973v8M415.5,1973v8M602,1973v8M788.5,1973v8M975,1973v8M1161.5,1973v8M1348,1973v8M1534.5,1973v8"/>
<path d="M117,2004.7h8M117,2036.4h8M117,2068.1h8M117,2099.9h8M117,2131.6h8M117,2163.3h8M1684,2004.7h-8M1684,2036.4h-8M1684,2068.1h-8M1684,2099.9h-8M1684,2131.6h-8M1684,2163.3h-8"/>
</g>
<g class="t" text-anchor="end">
<text x="110" y="1979">250</text><text x="110" y="2011">200</text><text x="110" y="2042">150</text><text x="110" y="2074">100</text><text x="110" y="2106">50</text><text x="110" y="2138">0</text><text x="110" y="2169">−50</text><text x="110" y="2201">−100</text>
</g>
<text class="yl" transform="translate(47,2084) rotate(-90)" text-anchor="middle">Vsw(km/s)</text>
<rect x="1605" y="1980" width="73" height="71" fill="#fff" stroke="#000" stroke-width="2"/>
<line x1="1614" y1="1992" x2="1636" y2="1992" stroke="#f00" stroke-width="2.5"/>
<line x1="1614" y1="2014" x2="1636" y2="2014" stroke="#008000" stroke-width="2.5"/>
<line x1="1614" y1="2037" x2="1636" y2="2037" stroke="#00f" stroke-width="2.5"/>
<g font-size="15"><text x="1650" y="1998">Vr</text><text x="1650" y="2020">Vt</text><text x="1650" y="2043">Vn</text></g>
</g>

<!-- Plasma Beta -->
<g>
<text class="ti" x="900" y="2296" text-anchor="middle" textLength="141" lengthAdjust="spacingAndGlyphs">Plasma Beta</text>
<svg x="117" y="2306" width="1567" height="222" viewBox="22 -0.48 42 0.18" preserveAspectRatio="none">
<polyline fill="none" stroke="#00f" stroke-width="2.5" vector-effect="non-scaling-stroke" points="22,-0.3875 24,-0.3685 26,-0.3777 28,-0.3571 30,-0.3549 32,-0.3228 34,-0.3663 36,-0.3043 38,-0.3652 40,-0.3685 42,-0.3538 44,-0.3234 46,-0.3332 48,-0.3429 50,-0.3929 52,-0.3957 54,-0.4217 56,-0.3571 58,-0.4136 60,-0.469 62,-0.462 64,-0.463"/>
</svg>
<rect x="117" y="2306" width="1567" height="222" fill="none" stroke="#000" stroke-width="2.5"/>
<g stroke="#000" stroke-width="1.2">
<path d="M228.9,2528v-8M415.5,2528v-8M602,2528v-8M788.5,2528v-8M975,2528v-8M1161.5,2528v-8M1348,2528v-8M1534.5,2528v-8M228.9,2306v8M415.5,2306v8M602,2306v8M788.5,2306v8M975,2306v8M1161.5,2306v8M1348,2306v8M1534.5,2306v8"/>
<path d="M117,2466.3h8M117,2404.7h8M117,2343h8M1684,2466.3h-8M1684,2404.7h-8M1684,2343h-8"/>
</g>
<g class="t" text-anchor="end">
<text x="110" y="2534">0.30</text><text x="110" y="2472">0.35</text><text x="110" y="2411">0.40</text><text x="110" y="2349">0.45</text>
</g>
<text transform="translate(58,2418) rotate(-90)" text-anchor="middle" font-size="13" font-style="italic" fill="#333">β<tspan font-size="9" dy="3">p</tspan></text>
</g>

<!-- Proton Number Density -->
<g>
<text class="ti" x="900" y="2630" text-anchor="middle" textLength="269" lengthAdjust="spacingAndGlyphs">Proton Number Density</text>
<svg x="117" y="2639" width="1567" height="222" viewBox="22 -205 42 45" preserveAspectRatio="none">
<polyline fill="none" stroke="#00f" stroke-width="2.5" vector-effect="non-scaling-stroke" points="22,-178.1 24,-181.6 26,-181.5 28,-180.3 30,-171.3 32,-167.2 34,-174.3 36,-162.3 38,-173.9 40,-177.1 42,-176.6 44,-172 46,-167.9 48,-166.7 50,-173.5 52,-180.5 54,-185.4 56,-175.6 58,-198.1 60,-200.5 62,-190.6 64,-180.3"/>
</svg>
<rect x="117" y="2639" width="1567" height="222" fill="none" stroke="#000" stroke-width="2.5"/>
<g stroke="#000" stroke-width="1.2">
<path d="M228.9,2861v-8M415.5,2861v-8M602,2861v-8M788.5,2861v-8M975,2861v-8M1161.5,2861v-8M1348,2861v-8M1534.5,2861v-8M228.9,2639v8M415.5,2639v8M602,2639v8M788.5,2639v8M975,2639v8M1161.5,2639v8M1348,2639v8M1534.5,2639v8"/>
<path d="M117,2663.7h8M117,2688.3h8M117,2713h8M117,2737.7h8M117,2762.3h8M117,2787h8M117,2811.7h8M117,2836.3h8M1684,2663.7h-8M1684,2688.3h-8M1684,2713h-8M1684,2737.7h-8M1684,2762.3h-8M1684,2787h-8M1684,2811.7h-8M1684,2836.3h-8"/>
</g>
<g class="t" text-anchor="end">
<text x="110" y="2645">205</text><text x="110" y="2670">200</text><text x="110" y="2694">195</text><text x="110" y="2719">190</text><text x="110" y="2744">185</text><text x="110" y="2768">180</text><text x="110" y="2793">175</text><text x="110" y="2818">170</text><text x="110" y="2842">165</text><text x="110" y="2867">160</text>
</g>
<text class="yl" transform="translate(61,2750) rotate(-90)" text-anchor="middle">Np(#/cc)</text>
</g>

<!-- Proton Temperature -->
<g>
<text class="ti" x="900" y="2962" text-anchor="middle">Proton Temperature and <tspan font-style="italic" font-family="Liberation Serif,serif">T</tspan><tspan font-style="italic" font-family="Liberation Serif,serif" font-size="14" dy="4">e</tspan><tspan font-style="italic" font-family="Liberation Serif,serif" dy="-4">/T</tspan><tspan font-style="italic" font-family="Liberation Serif,serif" font-size="14" dy="4">p</tspan></text>
<svg x="117" y="2973" width="1567" height="222" viewBox="22 -0.14 42 0.03" preserveAspectRatio="none">
<polyline fill="none" stroke="#00f" stroke-width="2.5" vector-effect="non-scaling-stroke" points="22,-0.1265 24,-0.122 26,-0.125 28,-0.1184 30,-0.1223 32,-0.1162 34,-0.1264 36,-0.1131 38,-0.1255 40,-0.1239 42,-0.1202 44,-0.1116 46,-0.1173 48,-0.1229 50,-0.1348 52,-0.1292 54,-0.134 56,-0.1202 58,-0.1239 60,-0.134 62,-0.1347 64,-0.1354"/>
</svg>
<rect x="117" y="2973" width="1567" height="222" fill="none" stroke="#000" stroke-width="2.5"/>
<g stroke="#000" stroke-width="1.2">
<path d="M228.9,3195v-8M415.5,3195v-8M602,3195v-8M788.5,3195v-8M975,3195v-8M1161.5,3195v-8M1348,3195v-8M1534.5,3195v-8M228.9,2973v8M415.5,2973v8M602,2973v8M788.5,2973v8M975,2973v8M1161.5,2973v8M1348,2973v8M1534.5,2973v8"/>
<path d="M117,3010h8M117,3047h8M117,3084h8M117,3121h8M117,3158h8M1684,3010h-8M1684,3047h-8M1684,3084h-8M1684,3121h-8M1684,3158h-8"/>
</g>
<g class="t" text-anchor="end">
<text x="110" y="2979">0.140</text><text x="110" y="3016">0.135</text><text x="110" y="3053">0.130</text><text x="110" y="3090">0.125</text><text x="110" y="3127">0.120</text><text x="110" y="3164">0.115</text><text x="110" y="3201">0.110</text>
</g>
<text class="yl" transform="translate(41,3084) rotate(-90)" text-anchor="middle">Tp(10<tspan font-size="10" dy="-6">6</tspan><tspan dy="6">K)</tspan></text>
<rect x="124" y="2981" width="71" height="27" fill="#fff" stroke="#000" stroke-width="2"/>
<line x1="133" y1="2994" x2="155" y2="2994" stroke="#00f" stroke-width="2.5"/>
<text x="168" y="3000" font-size="15">Tp</text>
</g>

<!-- time tick labels -->
<g class="t" text-anchor="middle">
<g transform="translate(0,1553)"><text x="228.9">10/04 01:31:25</text><text x="415.5">10/04 01:31:30</text><text x="602">10/04 01:31:35</text><text x="788.5">10/04 01:31:40</text><text x="975">10/04 01:31:45</text><text x="1161.5">10/04 01:31:50</text><text x="1348">10/04 01:31:55</text><text x="1534.5">10/04 01:32:00</text></g>
<g transform="translate(0,1887)"><text x="228.9">10/04 01:31:25</text><text x="415.5">10/04 01:31:30</text><text x="602">10/04 01:31:35</text><text x="788.5">10/04 01:31:40</text><text x="975">10/04 01:31:45</text><text x="1161.5">10/04 01:31:50</text><text x="1348">10/04 01:31:55</text><text x="1534.5">10/04 01:32:00</text></g>
<g transform="translate(0,2221)"><text x="228.9">10/04 01:31:25</text><text x="415.5">10/04 01:31:30</text><text x="602">10/04 01:31:35</text><text x="788.5">10/04 01:31:40</text><text x="975">10/04 01:31:45</text><text x="1161.5">10/04 01:31:50</text><text x="1348">10/04 01:31:55</text><text x="1534.5">10/04 01:32:00</text></g>
<g transform="translate(0,2554)"><text x="228.9">10/04 01:31:25</text><text x="415.5">10/04 01:31:30</text><text x="602">10/04 01:31:35</text><text x="788.5">10/04 01:31:40</text><text x="975">10/04 01:31:45</text><text x="1161.5">10/04 01:31:50</text><text x="1348">10/04 01:31:55</text><text x="1534.5">10/04 01:32:00</text></g>
<g transform="translate(0,2887)"><text x="228.9">10/04 01:31:25</text><text x="415.5">10/04 01:31:30</text><text x="602">10/04 01:31:35</text><text x="788.5">10/04 01:31:40</text><text x="975">10/04 01:31:45</text><text x="1161.5">10/04 01:31:50</text><text x="1348">10/04 01:31:55</text><text x="1534.5">10/04 01:32:00</text></g>
<g transform="translate(0,3221)"><text x="228.9">10/04 01:31:25</text><text x="415.5">10/04 01:31:30</text><text x="602">10/04 01:31:35</text><text x="788.5">10/04 01:31:40</text><text x="975">10/04 01:31:45</text><text x="1161.5">10/04 01:31:50</text><text x="1348">10/04 01:31:55</text><text x="1534.5">10/04 01:32:00</text></g>
</g>
</svg>
</body></html>
